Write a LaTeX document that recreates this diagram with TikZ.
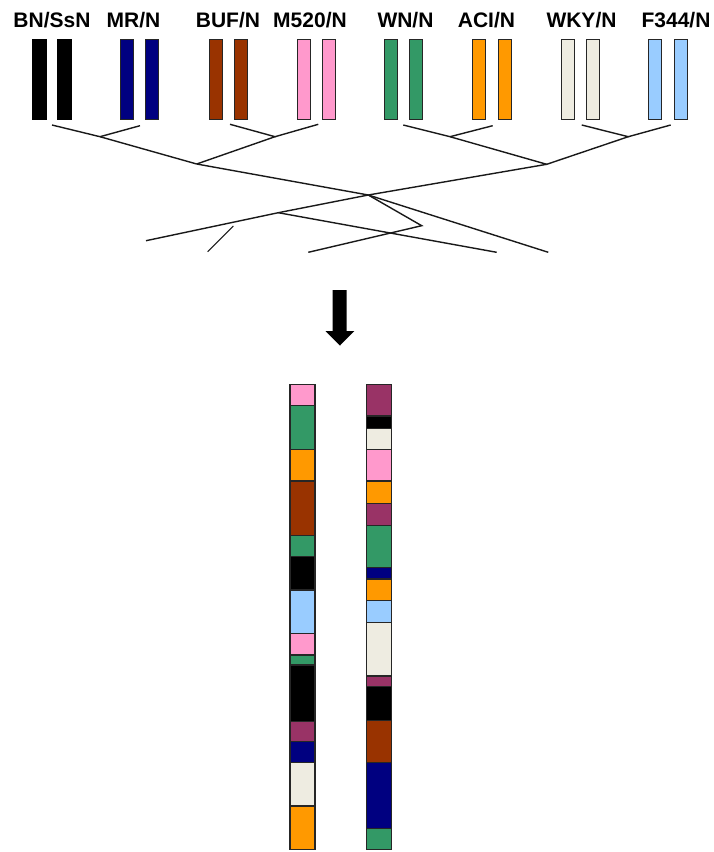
\documentclass[tikz,border=0pt]{standalone}
\usepackage{fontspec}
\setmainfont{Liberation Sans}
\definecolor{cnavy}{HTML}{000080}
\definecolor{cbrown}{HTML}{993300}
\definecolor{cpink}{HTML}{FF99CC}
\definecolor{cgreen}{HTML}{339966}
\definecolor{corange}{HTML}{FF9900}
\definecolor{cbeige}{HTML}{EEECE1}
\definecolor{cblue}{HTML}{99CCFF}
\definecolor{cpurple}{HTML}{993366}
\definecolor{cedge}{HTML}{262626}
\begin{document}
\begin{tikzpicture}[x=1pt,y=-1pt,
  lbl/.style={anchor=base,inner sep=0pt,font=\fontsize{21}{24}\selectfont\bfseries},
  chrom/.style={draw=cedge,line width=1.3pt,fill=#1,minimum width=13pt,minimum height=80pt,inner sep=0pt,anchor=north west},
  seg/.style={draw=cedge,line width=1.3pt,fill=#1},
  br/.style={line width=1.4pt,draw=black!90}]
\useasboundingbox (0,0) rectangle (714,852);
% labels
\node[lbl] (l1) at (52,27) {BN/SsN};
\node[lbl] (l2) at (133.5,27) {MR/N};
\node[lbl] (l3) at (228,27) {BUF/N};
\node[lbl] (l4) at (310,27) {M520/N};
\node[lbl] (l5) at (405.5,27) {WN/N};
\node[lbl] (l6) at (486.5,27) {ACI/N};
\node[lbl] (l7) at (581.5,27) {WKY/N};
\node[lbl] (l8) at (676,27) {F344/N};
% chromosome pairs
\node[chrom=black,draw=black,minimum width=14pt] (a1) at (31.5,38.5) {};
\node[chrom=black,draw=black,minimum width=14pt] (a2) at (56.5,38.5) {};
\node[chrom=cnavy] (b1) at (119.5,38.5) {};
\node[chrom=cnavy] (b2) at (144.5,38.5) {};
\node[chrom=cbrown] (c1) at (208.5,38.5) {};
\node[chrom=cbrown] (c2) at (233.5,38.5) {};
\node[chrom=cpink] (d1) at (296.5,38.5) {};
\node[chrom=cpink] (d2) at (321.5,38.5) {};
\node[chrom=cgreen] (e1) at (383.5,38.5) {};
\node[chrom=cgreen] (e2) at (408.5,38.5) {};
\node[chrom=corange] (f1) at (471.5,38.5) {};
\node[chrom=corange] (f2) at (497.5,38.5) {};
\node[chrom=cbeige] (g1) at (560.5,38.5) {};
\node[chrom=cbeige] (g2) at (585.5,38.5) {};
\node[chrom=cblue] (h1) at (647.5,38.5) {};
\node[chrom=cblue] (h2) at (673.5,38.5) {};
% tree coordinates
\coordinate (t1) at (52,125);
\coordinate (t2) at (140,125.7);
\coordinate (t3) at (230,124.3);
\coordinate (t4) at (318.3,124.3);
\coordinate (t5) at (403.3,125);
\coordinate (t6) at (492.7,125.7);
\coordinate (t7) at (581.7,125);
\coordinate (t8) at (670.7,125);
\coordinate (j12) at (100,136.7);
\coordinate (j34) at (275,136.7);
\coordinate (j56) at (450,136.7);
\coordinate (j78) at (628.3,136.7);
\coordinate (jL) at (196.7,164);
\coordinate (jR) at (546.7,164.3);
\coordinate (x0) at (368.3,195);
\coordinate (m1) at (278.3,212.7);
\coordinate (m2) at (421.7,225.7);
\coordinate (e1b) at (146,240.7);
\coordinate (e2b) at (308.3,252.3);
\coordinate (e3b) at (496.7,252.3);
\coordinate (e4b) at (548.3,252.3);
\coordinate (s1) at (207.7,251.7);
\coordinate (s2) at (233.3,226);
\draw[br] (t1) -- (j12) -- (jL);
\draw[br] (t2) -- (j12);
\draw[br] (t3) -- (j34) -- (jL);
\draw[br] (t4) -- (j34);
\draw[br] (t5) -- (j56) -- (jR);
\draw[br] (t6) -- (j56);
\draw[br] (t7) -- (j78) -- (jR);
\draw[br] (t8) -- (j78);
\draw[br] (jL) -- (x0);
\draw[br] (jR) -- (x0);
\draw[br] (x0) -- (m1) -- (e1b);
\draw[br] (x0) -- (e4b);
\draw[br] (x0) -- (m2) -- (e2b);
\draw[br] (m1) -- (e3b);
\draw[br,line width=1.1pt] (s1) -- (s2);
% arrow
\fill[black] (332.7,290) -- (346.7,290) -- (346.7,331) -- (354.3,331) -- (340,345.5) -- (325.5,331) -- (332.7,331) -- cycle;
% left recombinant chromosome
\draw[seg=cpink]   (290,384.3) rectangle (315,405.7);
\draw[seg=cgreen]  (290,405.7) rectangle (315,449.3);
\draw[seg=corange] (290,449.3) rectangle (315,481);
\draw[seg=cbrown]  (290,481) rectangle (315,535.7);
\draw[seg=cgreen]  (290,535.7) rectangle (315,556.7);
\draw[seg=black]   (290,556.7) rectangle (315,590);
\draw[seg=cblue]   (290,590) rectangle (315,633.3);
\draw[seg=cpink]   (290,633.3) rectangle (315,655);
\draw[seg=cgreen]  (290,655) rectangle (315,665);
\draw[seg=black]   (290,665) rectangle (315,721.7);
\draw[seg=cpurple] (290,721.7) rectangle (315,741.7);
\draw[seg=cnavy]   (290,741.7) rectangle (315,762.7);
\draw[seg=cbeige]  (290,762.7) rectangle (315,806);
\draw[seg=corange] (290,806) rectangle (315,849.3);
% right recombinant chromosome
\draw[seg=cpurple] (366.7,384.3) rectangle (391.7,416);
\draw[seg=black]   (366.7,416) rectangle (391.7,428.3);
\draw[seg=cbeige]  (366.7,428.3) rectangle (391.7,449.3);
\draw[seg=cpink]   (366.7,449.3) rectangle (391.7,481);
\draw[seg=corange] (366.7,481) rectangle (391.7,503.3);
\draw[seg=cpurple] (366.7,503.3) rectangle (391.7,525.3);
\draw[seg=cgreen]  (366.7,525.3) rectangle (391.7,567.7);
\draw[seg=cnavy]   (366.7,567.7) rectangle (391.7,579);
\draw[seg=corange] (366.7,579) rectangle (391.7,600.7);
\draw[seg=cblue]   (366.7,600.7) rectangle (391.7,622.3);
\draw[seg=cbeige]  (366.7,622.3) rectangle (391.7,676);
\draw[seg=cpurple] (366.7,676) rectangle (391.7,686.7);
\draw[seg=black]   (366.7,686.7) rectangle (391.7,720.7);
\draw[seg=cbrown]  (366.7,720.7) rectangle (391.7,762.7);
\draw[seg=cnavy]   (366.7,762.7) rectangle (391.7,828.3);
\draw[seg=cgreen]  (366.7,828.3) rectangle (391.7,849.3);
\end{tikzpicture}
\end{document}
